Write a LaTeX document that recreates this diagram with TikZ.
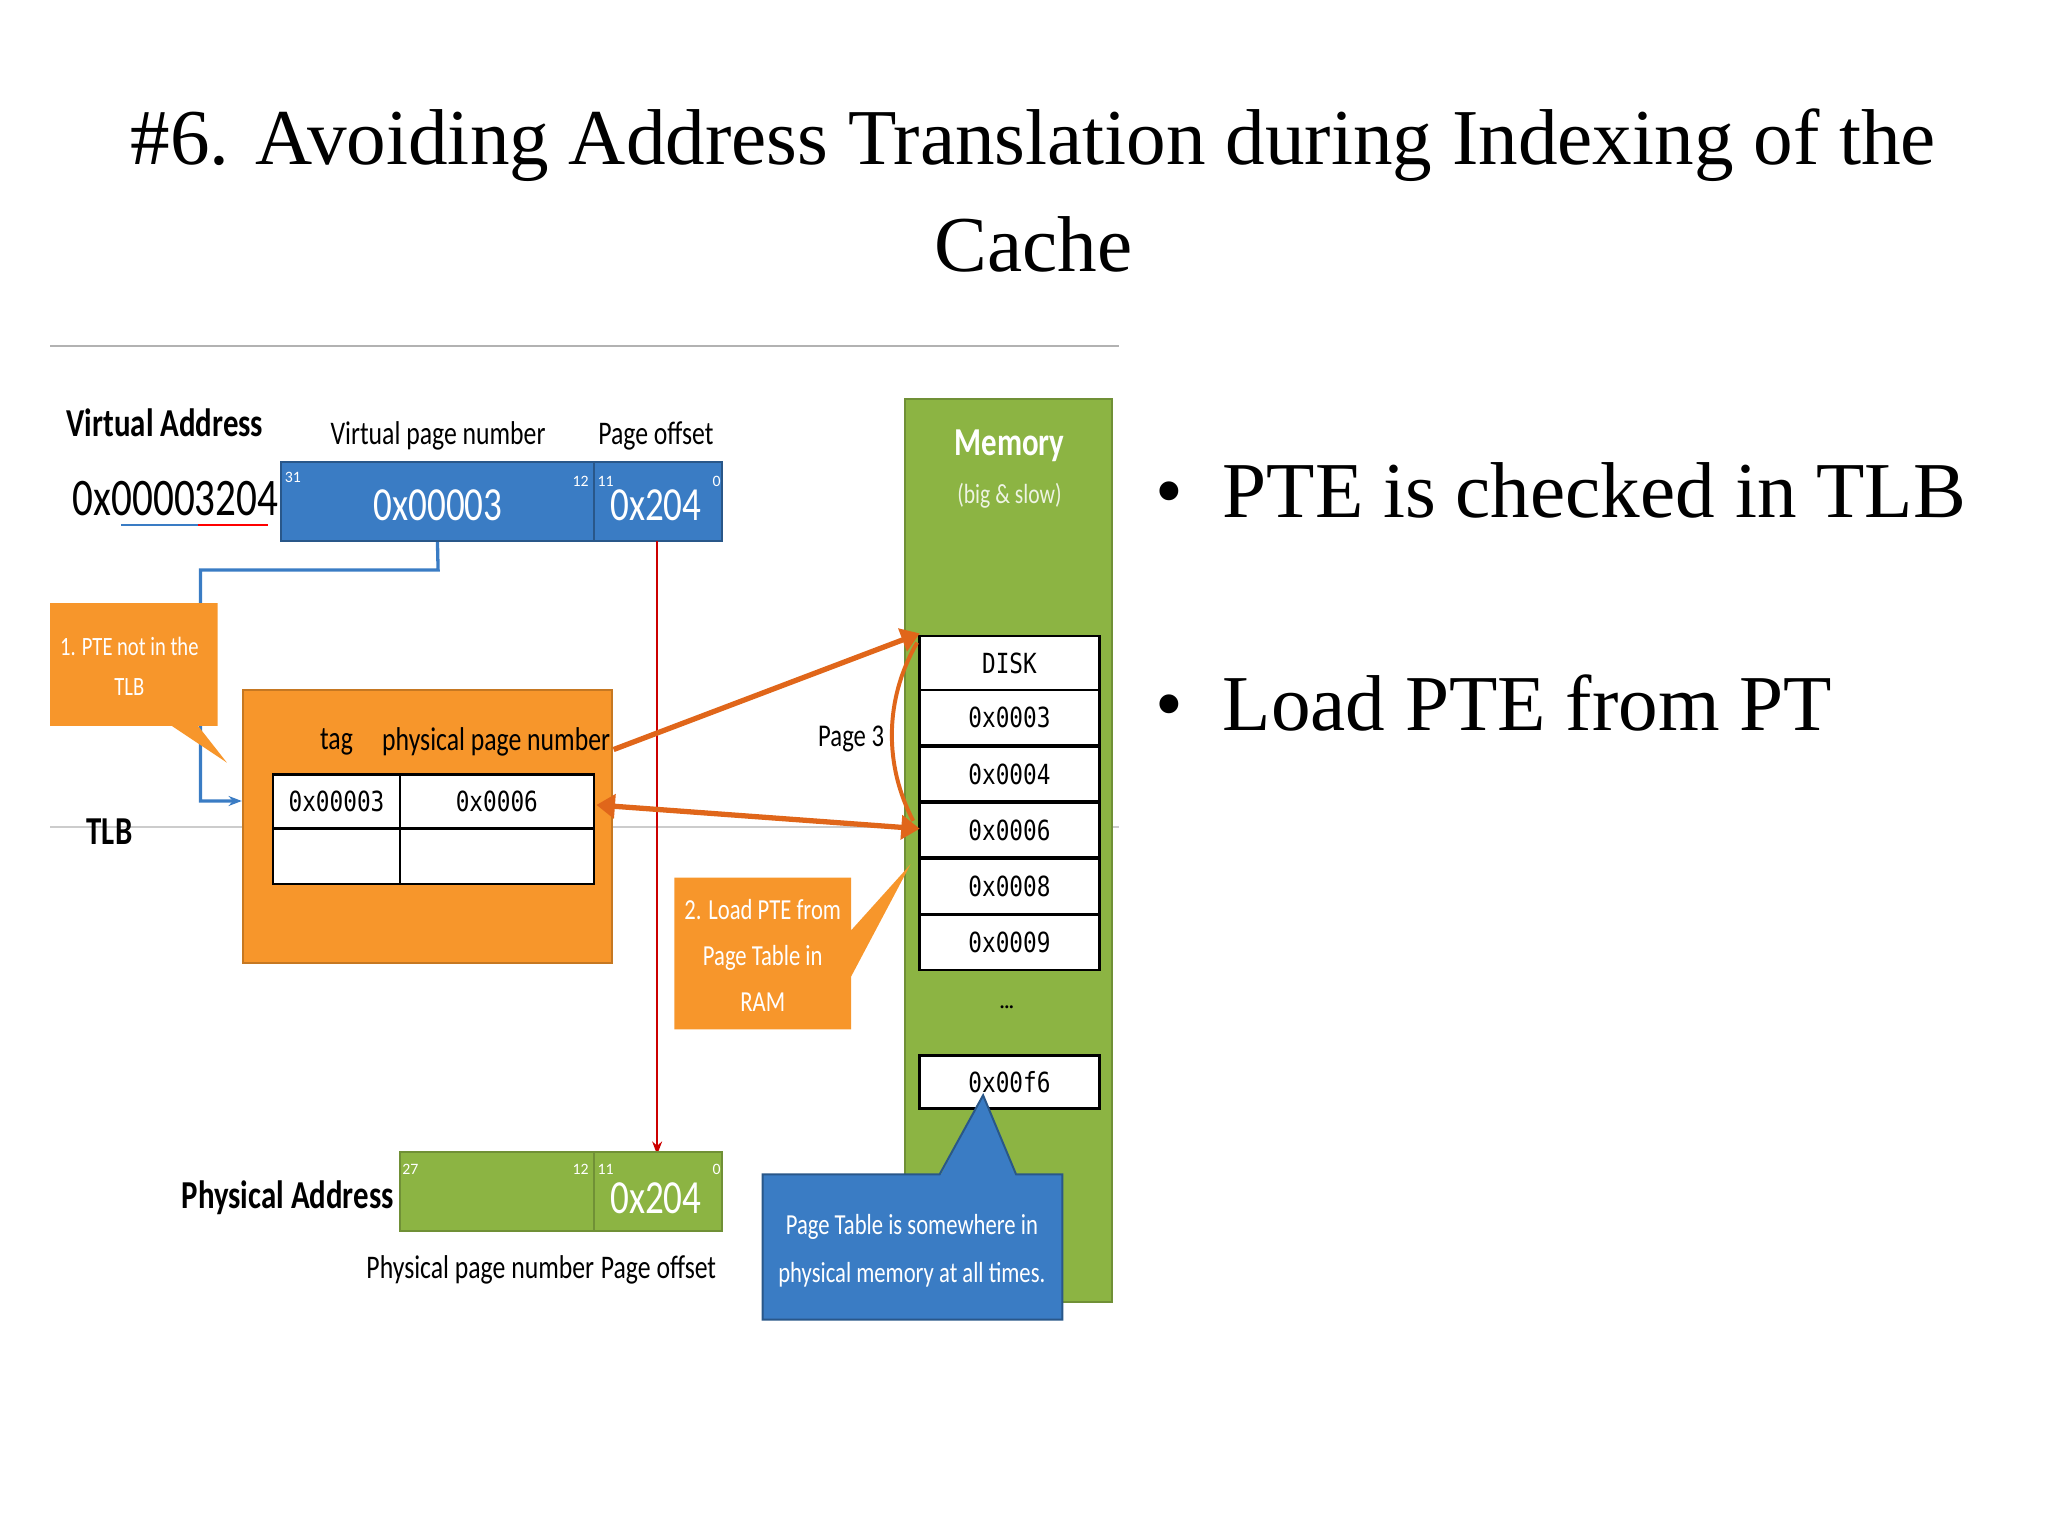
\documentclass[tikz,border=0pt]{standalone}
\usepackage{fontspec}
\usepackage{graphicx}
\setmainfont{Liberation Serif}
\newfontfamily\dg{Carlito}
\newfontfamily\mono{DejaVu Sans Mono}
\usetikzlibrary{arrows.meta}
\definecolor{vblue}{HTML}{3A7CC4}
\definecolor{vorange}{HTML}{F7962B}
\definecolor{varrow}{HTML}{E0661A}
\definecolor{vgreen}{HTML}{8CB443}
\newcommand\nar[1]{\scalebox{0.78}[1]{#1}}
\newcommand\narm[1]{\scalebox{0.82}[1]{#1}}
\begin{document}
\begin{tikzpicture}[x=1pt,y=-1pt,
  lbl/.style={font=\dg\fontsize{25}{26}\selectfont},
  small/.style={font=\dg\fontsize{12}{12}\selectfont,text=white},
  cell/.style={draw=black,line width=2pt,fill=white,minimum width=136pt,minimum height=42pt,font=\mono\fontsize{21}{22}\selectfont,inner sep=0},
  callout/.style={font=\dg\fontsize{19}{23}\selectfont,text=white,align=center}]
\useasboundingbox (0,0) rectangle (1552,1164);
% title
\node (t1) at (783,110) {\fontsize{60}{64}\selectfont \#6. Avoiding Address Translation during Indexing of the};
\node (t2) at (783,185) {\fontsize{60}{64}\selectfont Cache};
% lines
\draw[gray!60,line width=1.5pt] (38,262) -- (848,262);
\draw[gray!40,line width=1.5pt] (38,627) -- (848,627);
% memory
\node[fill=vgreen,draw=vgreen!80!black,line width=1.5pt,minimum width=157pt,minimum height=685pt,inner sep=0] (mem) at (764.5,644.5) {};
\node[font=\dg\bfseries\fontsize{30}{30}\selectfont,text=white] (memt) at (765,338) {\nar{Memory}};
\node[font=\dg\fontsize{21}{20}\selectfont,text=white!85!vgreen] (mems) at (765,376) {\nar{(big \& slow)}};
\node[cell] (m0) at (765,503) {\narm{DISK}};
\node[cell] (m1) at (765,544) {\narm{0x0003}};
\node[cell] (m2) at (765,586.5) {\narm{0x0004}};
\node[cell] (m3) at (765,629) {\narm{0x0006}};
\node[cell] (m4) at (765,671.5) {\narm{0x0008}};
\node[cell] (m5) at (765,714) {\narm{0x0009}};
\node[font=\bfseries\fontsize{14}{14}\selectfont] (dots) at (763,763) {...};
\node[cell,minimum height=40pt] (m6) at (765,820) {\narm{0x00f6}};
% virtual address
\node[font=\dg\bfseries\fontsize{30}{30}\selectfont] (va) at (125,320) {\nar{Virtual Address}};
\node[font=\dg\fontsize{40}{40}\selectfont] (vav) at (133,378) {\nar{0x00003204}};
\draw[vblue,line width=1.5pt] (92,398) -- (150,398);
\draw[red,line width=1.5pt] (150,398) -- (203,398);
\node[fill=vblue,draw=vblue!70!black,line width=1.5pt,minimum width=237pt,minimum height=60pt,inner sep=0] (vpn) at (331.5,380) {};
\node[fill=vblue,draw=vblue!70!black,line width=1.5pt,minimum width=97pt,minimum height=60pt,inner sep=0] (voff) at (498.5,380) {};
\node[font=\dg\fontsize{36}{34}\selectfont,text=white] at (332,383) {\nar{0x00003}};
\node[font=\dg\fontsize{36}{34}\selectfont,text=white] at (497,383) {\nar{0x204}};
\node[small] at (222,362) {31};
\node[small] at (440,365) {12};
\node[small] at (459,365) {11};
\node[small] at (543,365) {0};
\node[lbl] at (332,330) {\nar{Virtual page number}};
\node[lbl] at (497,330) {\nar{Page offset}};
% TLB
\node[fill=vorange,draw=vorange!80!black,line width=1.5pt,minimum width=280pt,minimum height=207pt,inner sep=0] (tlb) at (324,626.5) {};
\node[lbl] at (255,562) {\nar{tag}};
\node[lbl] at (376,562) {\nar{physical page number}};
\node[draw,line width=2pt,fill=white,minimum width=96pt,minimum height=41pt,inner sep=0,font=\mono\fontsize{21}{22}\selectfont] (tg) at (255,607.5) {\narm{0x00003}};
\node[draw,line width=2pt,fill=white,minimum width=147pt,minimum height=41pt,inner sep=0,font=\mono\fontsize{21}{22}\selectfont] (pp) at (376.5,607.5) {\narm{0x0006}};
\node[draw,line width=2pt,fill=white,minimum width=96pt,minimum height=42pt,inner sep=0] (tg2) at (255,649) {};
\node[draw,line width=2pt,fill=white,minimum width=147pt,minimum height=42pt,inner sep=0] (pp2) at (376.5,649) {};
\node[font=\dg\bfseries\fontsize{30}{30}\selectfont] (tlbl) at (83,630) {\nar{TLB}};
% blue connector
\coordinate (b1) at (332,432);
\coordinate (b2) at (152,432);
\coordinate (b3) at (152,607);
\draw[vblue,line width=2.5pt,-{Stealth[length=10pt]}] (vpn.south) -- (b1) -- (b2) -- (b3) -- (tlb.west |- b3);
% callout 1
\fill[vorange] (38,457) rectangle (165,550) (130,550) -- (172,578) -- (150,550) -- cycle;
\node[callout,font=\dg\fontsize{20}{30}\selectfont] (c1) at (98,505) {\nar{1. PTE not in the}\\\nar{TLB}};
% red line
\draw[red!80!black,line width=1.5pt,-{Stealth[length=10pt]}] (498,410) -- (498,875);
% physical address
\node[fill=vgreen,draw=vgreen!80!black,line width=1.5pt,minimum width=147pt,minimum height=60pt,inner sep=0] (ppn) at (376.5,903) {};
\node[fill=vgreen,draw=vgreen!80!black,line width=1.5pt,minimum width=97pt,minimum height=60pt,inner sep=0] (poff) at (498.5,903) {};
\node[font=\dg\fontsize{36}{34}\selectfont,text=white] at (497,908) {\nar{0x204}};
\node[small] at (311,886) {27};
\node[small] at (440,886) {12};
\node[small] at (459,886) {11};
\node[small] at (543,886) {0};
\node[font=\dg\bfseries\fontsize{30}{30}\selectfont] (pa) at (218,908) {\nar{Physical Address}};
\node[lbl] at (364,962) {\nar{Physical page number}};
\node[lbl] at (499,962) {\nar{Page offset}};
% orange arrows
\coordinate (a1) at (697,480);
\coordinate (a2) at (697,628);
\draw[varrow,line width=4pt,-{Triangle[length=14pt,width=18pt]}] (465,568) -- (a1);
\draw[varrow,line width=4pt,{Triangle[length=14pt,width=18pt]}-{Triangle[length=14pt,width=18pt]}] (452,610) -- (a2);
\draw[varrow,line width=3pt] (695,487) .. controls (670,530) and (670,580) .. (692,622);
\node[lbl,font=\dg\fontsize{24}{24}\selectfont] (pg3) at (645,560) {\nar{Page 3}};
% callout 2
\fill[vorange] (511,665) rectangle (645,780) (645,705) -- (690,655) -- (645,740) -- cycle;
\node[callout,font=\dg\fontsize{22}{35}\selectfont] (c2) at (578,724) {\nar{2. Load PTE from}\\\nar{Page Table in}\\\nar{RAM}};
% callout 3
\fill[vblue] (578,890) rectangle (805,1000);
\fill[vblue] (712,892) -- (745,830) -- (770,892) -- cycle;
\draw[vblue!70!black,line width=1.5pt] (578,890) -- (712,890) -- (745,830) -- (770,890) -- (805,890) -- (805,1000) -- (578,1000) -- cycle;
\node[callout,font=\dg\fontsize{22}{36}\selectfont] (c3) at (691,948) {\nar{Page Table is somewhere in}\\\nar{physical memory at all times.}};
% bullets
\node[anchor=west] (bl1) at (872,372) {\fontsize{60}{64}\selectfont \textbullet\hspace{30pt}PTE is checked in TLB};
\node[anchor=west] (bl2) at (872,533) {\fontsize{60}{64}\selectfont \textbullet\hspace{30pt}Load PTE from PT};
\end{tikzpicture}
\end{document}
